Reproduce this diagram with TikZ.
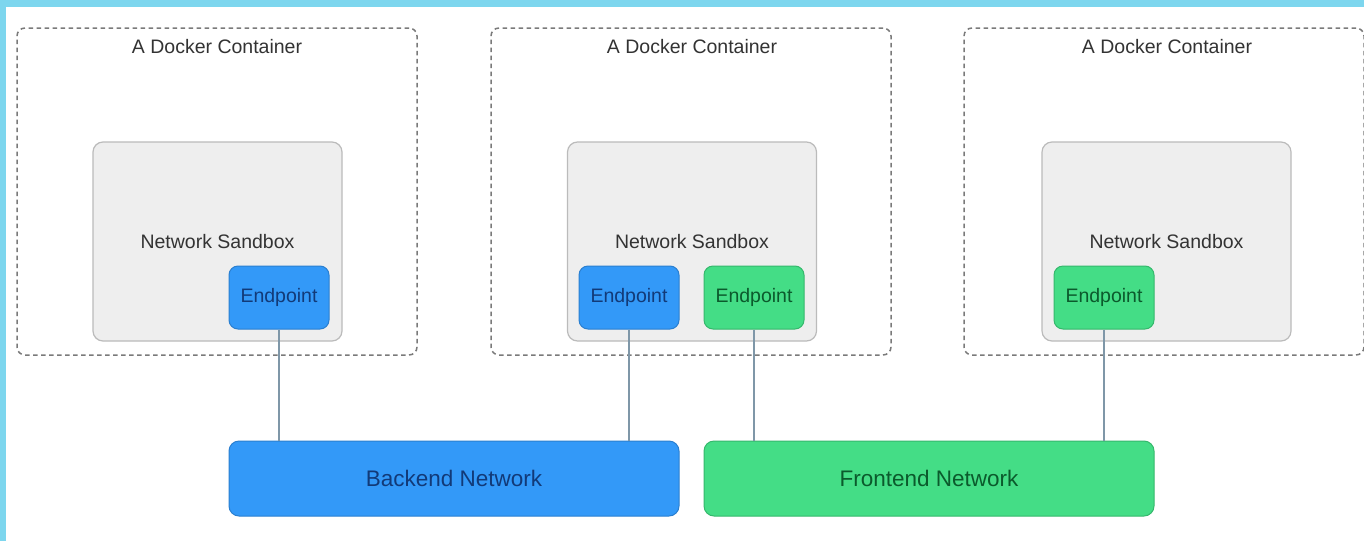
\documentclass[tikz,border=0pt]{standalone}
\usepackage{fontspec}
\setmainfont{Liberation Sans}
\definecolor{framecol}{HTML}{7DD6EE}
\definecolor{dashgray}{HTML}{7A7A7A}
\definecolor{sandfill}{HTML}{EEEEEE}
\definecolor{sanddraw}{HTML}{BBBBBB}
\definecolor{backblue}{HTML}{3399F8}
\definecolor{backdraw}{HTML}{2A7FD0}
\definecolor{backtext}{HTML}{123A78}
\definecolor{frontgreen}{HTML}{44DD86}
\definecolor{frontdraw}{HTML}{35B86C}
\definecolor{fronttext}{HTML}{0B5A2C}
\definecolor{linkcol}{HTML}{7F97A8}
\tikzset{
  container/.style={draw=dashgray, dash pattern=on 4.5pt off 3.5pt, line width=1.5pt,
    rounded corners=8pt, minimum width=400pt, minimum height=327pt},
  boxtitle/.style={text=black!80, font=\fontsize{19.5}{23}\selectfont},
  sandbox/.style={draw=sanddraw, fill=sandfill, line width=1.2pt, rounded corners=10pt,
    minimum width=249pt, minimum height=199pt, text=black!80, font=\fontsize{19.5}{23}\selectfont},
  endpt/.style={rounded corners=9pt, line width=1pt, minimum width=100pt, minimum height=63pt,
    font=\fontsize{19.5}{23}\selectfont},
  netbox/.style={rounded corners=10pt, line width=1pt, minimum width=450pt, minimum height=75pt,
    font=\fontsize{22.5}{26}\selectfont},
  blueside/.style={fill=backblue, draw=backdraw, text=backtext},
  greenside/.style={fill=frontgreen, draw=frontdraw, text=fronttext},
  link/.style={draw=linkcol, line width=1.2pt}
}
\begin{document}
\begin{tikzpicture}[x=1pt, y=-1pt]
  \useasboundingbox (0,0) rectangle (1364,541);
  \fill[framecol] (0,0) rectangle (1364,541);
  \fill[white] (6,7) rectangle (1364,541);

  % containers
  \node[container] (box1) at (217,191.5) {};
  \node[container] (box2) at (691,191.5) {};
  \node[container] (box3) at (1164,191.5) {};
  \node[boxtitle] (title1) at (217,47) {A Docker Container};
  \node[boxtitle] (title2) at (692,47) {A Docker Container};
  \node[boxtitle] (title3) at (1167,47) {A Docker Container};

  % sandboxes
  \node[sandbox] (sand1) at (217.5,241.5) {Network Sandbox};
  \node[sandbox] (sand2) at (692,241.5) {Network Sandbox};
  \node[sandbox] (sand3) at (1166.5,241.5) {Network Sandbox};

  % endpoints
  \node[endpt, blueside] (ep1) at (279,297.5) {Endpoint};
  \node[endpt, blueside] (ep2) at (629,297.5) {Endpoint};
  \node[endpt, greenside] (ep3) at (754,297.5) {Endpoint};
  \node[endpt, greenside] (ep4) at (1104,297.5) {Endpoint};

  % networks
  \node[netbox, blueside] (backnet) at (454,478.5) {Backend Network};
  \node[netbox, greenside] (frontnet) at (929,478.5) {Frontend Network};

  \draw[link] (ep1) -- (ep1 |- backnet.north);
  \draw[link] (ep2) -- (ep2 |- backnet.north);
  \draw[link] (ep3) -- (ep3 |- frontnet.north);
  \draw[link] (ep4) -- (ep4 |- frontnet.north);
\end{tikzpicture}
\end{document}
